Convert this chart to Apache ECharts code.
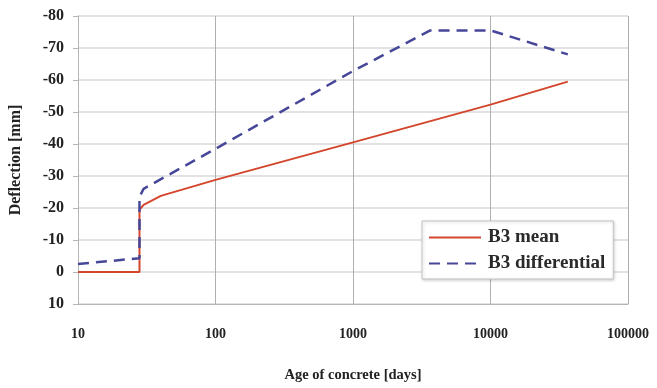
<!DOCTYPE html>
<html>
<head>
<meta charset="utf-8">
<script src="https://cdn.jsdelivr.net/npm/echarts@6/dist/echarts.min.js"></script>
<style>
  html, body { margin: 0; padding: 0; background: #fff; }
  #chart { width: 657px; height: 388px; }
</style>
</head>
<body>
<div id="chart"></div>
<script>
// Age of concrete (days) and predicted deflection (mm) for the two B3 curves
const meanAges = [10, 28, 28, 30, 40, 100, 1000, 10000, 36500];
const meanDeflection = [0, 0, -19.5, -21, -23.8, -28.8, -40.5, -52.3, -59.5];

const diffAges = [10, 28, 28, 30, 100, 1000, 3650, 10000, 36500];
const diffDeflection = [-2.5, -4.3, -23.5, -26, -38.5, -62.8, -75.5, -75.5, -68];

const xTicks = [10, 100, 1000, 10000, 100000];
const yTicks = [-80, -70, -60, -50, -40, -30, -20, -10, 0, 10];

const seriesNames = ['B3 mean', 'B3 differential'];

const pairs = (xs, ys) => xs.map((x, i) => [x, ys[i]]);

const font = 'Liberation Serif';
const chart = echarts.init(document.getElementById('chart'));
chart.setOption({
  animation: false,
  backgroundColor: '#ffffff',
  grid: { left: 78, right: 29, top: 16, bottom: 81, containLabel: false },
  legend: {
    orient: 'vertical',
    left: 422,
    top: 221,
    width: 193,
    padding: [7, 8, 6, 6],
    itemWidth: 52,
    itemHeight: 10,
    itemGap: 7,
    itemStyle: { opacity: 0 },
    backgroundColor: '#ffffff',
    borderColor: '#c4c4c4',
    borderWidth: 1,
    shadowColor: 'rgba(0,0,0,0.18)',
    shadowBlur: 3,
    shadowOffsetX: 1,
    shadowOffsetY: 1,
    textStyle: { fontFamily: font, fontWeight: 'bold', fontSize: 19, color: '#2a2a2a', padding: [0, 0, 0, 2] },
    data: seriesNames
  },
  xAxis: {
    type: 'log',
    logBase: 10,
    min: xTicks[0],
    max: xTicks[xTicks.length - 1],
    name: 'Age of concrete [days]',
    nameLocation: 'middle',
    nameGap: 64,
    nameTextStyle: { fontFamily: font, fontWeight: 'bold', fontSize: 14.5, color: '#222' },
    axisLine: { show: true, onZero: false, lineStyle: { color: '#b5b5b5', width: 1 } },
    axisTick: { show: false },
    axisLabel: {
      margin: 23,
      fontFamily: font, fontWeight: 'bold', fontSize: 14, color: '#222',
      formatter: v => String(Math.round(v))
    },
    splitLine: { show: true, lineStyle: { color: '#b0b0b0', width: 1 } }
  },
  yAxis: {
    type: 'value',
    inverse: true,
    min: yTicks[0],
    max: yTicks[yTicks.length - 1],
    interval: 10,
    name: 'Deflection [mm]',
    nameLocation: 'middle',
    nameGap: 54,
    nameRotate: 90,
    nameTextStyle: { fontFamily: font, fontWeight: 'bold', fontSize: 16, color: '#222' },
    axisLine: { show: true, lineStyle: { color: '#b5b5b5', width: 1 } },
    axisTick: { show: true, length: 5, lineStyle: { color: '#b5b5b5' } },
    axisLabel: {
      margin: 14,
      fontFamily: font, fontWeight: 'bold', fontSize: 16, color: '#222'
    },
    splitLine: { show: true, lineStyle: { color: '#e2e2e2', width: 2 } }
  },
  series: [
    {
      name: seriesNames[0],
      type: 'line',
      data: pairs(meanAges, meanDeflection),
      showSymbol: false,
      symbol: 'none',
      color: '#d3462c',
      lineStyle: { color: '#d3462c', width: 2 },
      z: 3
    },
    {
      name: seriesNames[1],
      type: 'line',
      data: pairs(diffAges, diffDeflection),
      showSymbol: false,
      symbol: 'none',
      color: '#47479a',
      lineStyle: { color: '#47479a', width: 2.5, type: [11, 7] },
      z: 4
    }
  ]
});
</script>
</body>
</html>
